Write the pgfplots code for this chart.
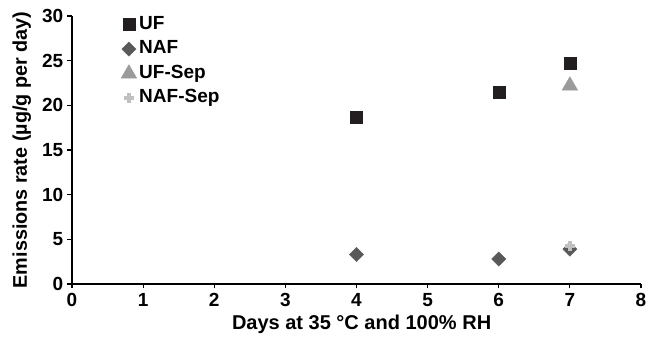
\documentclass[border=0pt]{standalone}
\usepackage{pgfplots}
\pgfplotsset{compat=1.18}
\usepackage{fontspec}
\setmainfont{Liberation Sans}
\definecolor{cUF}{HTML}{231F20}
\definecolor{cNAF}{HTML}{595959}
\definecolor{cUFS}{HTML}{9B9B9B}
\definecolor{cNAFS}{HTML}{C0C0C0}
\begin{document}
\begin{tikzpicture}
\begin{axis}[
  name=ax,
  scale only axis,
  width=569pt, height=268pt,
  xmin=0, xmax=8, ymin=0, ymax=30,
  xtick={0,1,...,8}, ytick={0,5,...,30},
  axis x line*=bottom, axis y line*=left,
  axis line style={line width=1.5pt},
  tick style={line width=1.2pt, black},
  tick align=outside, major tick length=4.5pt,
  /pgf/number format/assume math mode=true,
  ticklabel style={font=\fontsize{19}{22}\selectfont\bfseries},
  xticklabel style={inner sep=4.5pt},
  yticklabel style={inner sep=4pt},
  xlabel={Days at 35 °C and 100\% RH},
  ylabel={Emissions rate (µg/g per day)},
  xlabel style={font=\fontsize{20}{24}\selectfont\bfseries, at={(axis description cs:0.509,-0.168)}, anchor=base},
  ylabel style={font=\fontsize{19.8}{24}\selectfont\bfseries, at={(axis description cs:-0.0791,0.5)}, anchor=base},
  legend style={at={(axis description cs:0.086,1.015)}, anchor=north west, draw=none, fill=none,
    font=\fontsize{19}{22}\selectfont\bfseries, inner sep=0pt, row sep=0pt,
    nodes={inner sep=2.5pt, text height=14.4pt, text depth=5.2pt}},
  legend cell align=left,
  legend image code/.code={\draw[#1] plot coordinates {(0pt,0pt)};},
]
\addplot[only marks, mark=square*, mark size=6pt, color=cUF] coordinates {(4,18.7) (6,21.5) (7,24.7)};
\addlegendentry{UF}
\addplot[only marks, mark=square*, mark size=5pt, mark options={rotate=45}, color=cNAF] coordinates {(4,3.3) (6,2.8) (7,3.9)};
\addlegendentry{NAF}
\addplot[only marks, mark=triangle*, mark size=9pt, color=cUFS] coordinates {(7,22.2)};
\addlegendentry{UF-Sep}
\addplot[only marks, mark=+, mark size=5pt, mark options={line width=4pt}, color=cNAFS] coordinates {(7,4.3)};
\addlegendentry{NAF-Sep}
\end{axis}
\pgfresetboundingbox
\useasboundingbox ([shift={(-72pt,-57pt)}]ax.south west) rectangle ([shift={(10pt,16pt)}]ax.north east);
\end{tikzpicture}
\end{document}
